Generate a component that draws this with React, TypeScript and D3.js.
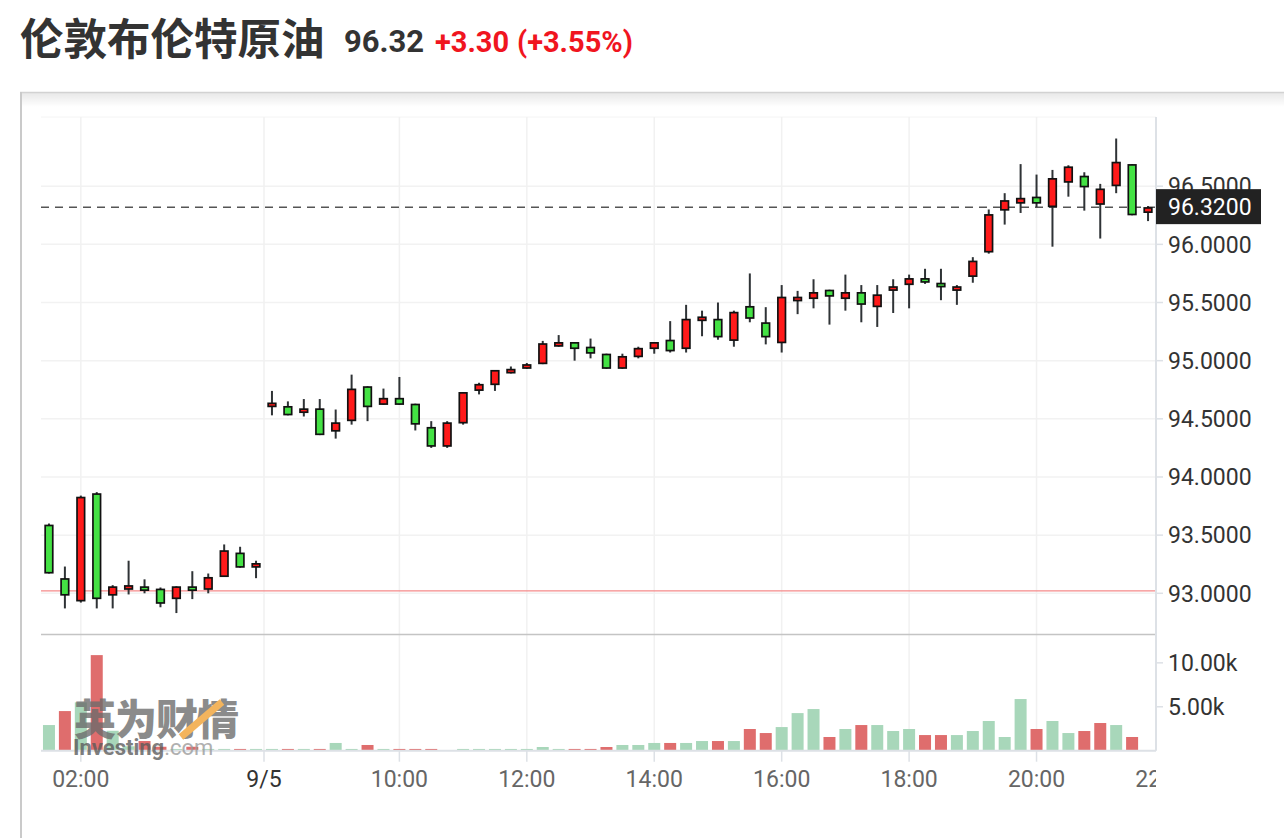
import { useEffect } from 'react';
import * as d3 from 'd3';

// 15-minute candles, index 0 = 01:30
const opens = [
  93.59, 93.13, 92.93, 93.86, 92.98, 93.03, 93.06, 93.04, 92.95, 93.06,
  93.03, 93.14, 93.35, 93.22, 94.60, 94.61, 94.55, 94.59, 94.39, 94.48,
  94.78, 94.62, 94.68, 94.63, 94.43, 94.26, 94.46, 94.74, 94.79, 94.89,
  94.93, 94.97, 95.12, 95.16, 95.12, 95.06, 94.93, 95.03, 95.10, 95.18,
  95.10, 95.34, 95.36, 95.17, 95.47, 95.33, 95.15, 95.51, 95.53, 95.61,
  95.53, 95.59, 95.46, 95.60, 95.65, 95.71, 95.67, 95.60, 95.72, 95.93,
  96.29, 96.35, 96.41, 96.32, 96.53, 96.59, 96.34, 96.50, 96.69, 96.27,
];
const highs = [
  93.60, 93.23, 93.84, 93.87, 93.07, 93.28, 93.12, 93.05, 93.06, 93.19,
  93.17, 93.42, 93.40, 93.28, 94.74, 94.65, 94.67, 94.67, 94.58, 94.88,
  94.78, 94.76, 94.86, 94.63, 94.48, 94.48, 94.73, 94.81, 94.92, 94.95,
  94.98, 95.17, 95.22, 95.16, 95.19, 95.06, 95.06, 95.12, 95.16, 95.34,
  95.48, 95.43, 95.50, 95.43, 95.75, 95.46, 95.65, 95.60, 95.70, 95.61,
  95.74, 95.65, 95.65, 95.70, 95.74, 95.79, 95.79, 95.65, 95.89, 96.30,
  96.44, 96.69, 96.60, 96.64, 96.68, 96.62, 96.52, 96.91, 96.69, 96.33,
];
const lows = [
  93.17, 92.87, 92.92, 92.87, 92.87, 92.99, 93.00, 92.88, 92.83, 92.95,
  93.00, 93.14, 93.22, 93.13, 94.53, 94.53, 94.52, 94.36, 94.33, 94.45,
  94.48, 94.62, 94.62, 94.40, 94.25, 94.25, 94.45, 94.71, 94.74, 94.89,
  94.93, 94.97, 95.12, 95.00, 95.02, 94.93, 94.93, 95.02, 95.06, 95.07,
  95.07, 95.21, 95.18, 95.12, 95.33, 95.14, 95.07, 95.40, 95.45, 95.31,
  95.43, 95.33, 95.29, 95.41, 95.45, 95.66, 95.52, 95.48, 95.67, 95.92,
  96.17, 96.27, 96.32, 95.98, 96.41, 96.29, 96.05, 96.44, 96.25, 96.20,
];
const closes = [
  93.17, 92.98, 93.83, 92.95, 93.06, 93.07, 93.02, 92.91, 93.06, 93.02,
  93.14, 93.37, 93.22, 93.26, 94.64, 94.53, 94.59, 94.36, 94.47, 94.76,
  94.60, 94.68, 94.62, 94.45, 94.26, 94.47, 94.73, 94.80, 94.92, 94.93,
  94.97, 95.15, 95.16, 95.10, 95.06, 94.93, 95.04, 95.11, 95.16, 95.08,
  95.36, 95.38, 95.20, 95.42, 95.36, 95.20, 95.55, 95.55, 95.59, 95.55,
  95.59, 95.48, 95.57, 95.64, 95.71, 95.67, 95.63, 95.64, 95.86, 96.26,
  96.38, 96.40, 96.35, 96.57, 96.67, 96.49, 96.48, 96.71, 96.25, 96.32,
];
// volume, thousands
const volumes = [
  2.92, 4.51, 5.5, 10.88, 2.27, 0.5, 1.1, 0.45, 0.2, 0.45,
  0.2, 0.2, 0.2, 0.2, 0.2, 0.2, 0.2, 0.2, 0.88, 0.2,
  0.65, 0.2, 0.2, 0.2, 0.2, 0.05, 0.2, 0.2, 0.2, 0.2,
  0.2, 0.42, 0.2, 0.2, 0.2, 0.42, 0.65, 0.65, 0.88, 0.88,
  0.88, 1.1, 1.1, 1.1, 2.47, 2.01, 2.69, 4.28, 4.74, 1.56,
  2.47, 2.92, 2.92, 2.24, 2.47, 1.78, 1.78, 1.78, 2.24, 3.38,
  1.56, 5.88, 2.47, 3.38, 2.01, 2.24, 3.15, 2.92, 1.56, 0,
];

const timeTickPos = [2, 13.5, 22, 30, 38, 46, 54, 62, 70];
const timeTickLabels = ['02:00', '9/5', '10:00', '12:00', '14:00', '16:00', '18:00', '20:00', '22:00'];
const priceTicks = [93, 93.5, 94, 94.5, 95, 95.5, 96, 96.5];
const volumeTicks = [5, 10];
const prevClose = 93.02;
const lastPrice = 96.32;

const W = 1284;
const H = 838;
const plotLeft = 41;
const plotRight = 1156;
const priceTop = 117;
const priceBottom = 634;
const volTop = 640;
const volBottom = 750.7;

const RED = '#ff1a1a';
const GREEN = '#44e244';
const VOL_RED = '#df6d6d';
const VOL_GREEN = '#a8d7ba';
const FONT = 'Roboto, "Noto Sans", Arial, sans-serif';

export default function App() {
  useEffect(() => {
    document.body.style.margin = '0';
  }, []);

  const x = d3.scaleLinear().domain([-0.5, 69.5]).range([plotLeft, plotRight]);
  const y = d3.scaleLinear().domain([92.65, 97.095]).range([priceBottom, priceTop]);
  const yv = d3.scaleLinear().domain([0, 12.6]).range([volBottom, volTop]);

  const idx = d3.range(opens.length);
  const bodyW = 7.6;
  const volW = 12;

  return (
    <svg width={W} height={H} style={{ display: 'block', background: '#fff' }}>
      <defs>
        <linearGradient id="shadow" x1="0" x2="0" y1="0" y2="1">
          <stop offset="0" stopColor="#000" stopOpacity="0.09" />
          <stop offset="1" stopColor="#000" stopOpacity="0" />
        </linearGradient>
        <clipPath id="clipAxis">
          <rect x={0} y={0} width={plotRight} height={H} />
        </clipPath>
      </defs>

      {/* header */}
      <text x={20} y={55} fontFamily='"Noto Sans CJK SC", sans-serif' fontWeight={700} fontSize={43.5} fill="#333">
        伦敦布伦特原油
      </text>
      <text x={344} y={52} fontFamily={FONT} fontWeight={700} fontSize={31} fill="#333">96.32</text>
      <text x={435} y={52} fontFamily={FONT} fontWeight={700} fontSize={29} fill="#f0151f">+3.30</text>
      <text x={517} y={52} fontFamily={FONT} fontWeight={700} fontSize={29} fill="#f0151f">(+3.55%)</text>

      {/* card */}
      <rect x={21} y={93} width={W - 21} height={14} fill="url(#shadow)" />
      <line x1={20} x2={W} y1={92.5} y2={92.5} stroke="#d2d2d2" strokeWidth={1.5} />
      <line x1={21} x2={21} y1={92} y2={H} stroke="#cacaca" strokeWidth={2} />

      {/* horizontal grid */}
      {priceTicks.map(t => (
        <line key={`hg${t}`} x1={plotLeft} x2={plotRight} y1={y(t)} y2={y(t)} stroke="#f2f2f2" strokeWidth={1.5} />
      ))}
      <line x1={plotLeft} x2={plotRight} y1={priceTop} y2={priceTop} stroke="#f4f4f4" strokeWidth={1} />

      {/* vertical grid + ticks */}
      {timeTickPos.filter(p => x(p) < plotRight).map(p => (
        <g key={`vg${p}`}>
          <line x1={x(p)} x2={x(p)} y1={priceTop} y2={volBottom} stroke="#f1f1f1" strokeWidth={1.5} />
          <line x1={x(p)} x2={x(p)} y1={volBottom} y2={volBottom + 11} stroke="#dde1e6" strokeWidth={1.5} />
        </g>
      ))}

      {/* previous close + last price lines */}
      <line x1={plotLeft} x2={plotRight} y1={y(prevClose)} y2={y(prevClose)} stroke="#f58a8a" strokeWidth={1.2} />
      <line x1={plotLeft} x2={plotRight} y1={y(lastPrice)} y2={y(lastPrice)} stroke="#555" strokeWidth={1.5} strokeDasharray="8,6" />

      {/* candles */}
      {idx.map(i => {
        const o = opens[i];
        const c = closes[i];
        const up = c >= o;
        const top = y(Math.max(o, c)) + 0.8;
        const bot = y(Math.min(o, c)) - 0.8;
        const cx = x(i);
        return (
          <g key={`c${i}`}>
            <line x1={cx} x2={cx} y1={y(highs[i])} y2={y(lows[i])} stroke="#2f3336" strokeWidth={2} />
            <rect
              x={cx - bodyW / 2}
              y={top}
              width={bodyW}
              height={Math.max(1.5, bot - top)}
              fill={up ? RED : GREEN}
              stroke="#111"
              strokeWidth={1.7}
            />
          </g>
        );
      })}

      {/* separator between panels */}
      <line x1={plotLeft} x2={plotRight} y1={priceBottom + 0.5} y2={priceBottom + 0.5} stroke="#c4c4c4" strokeWidth={1.5} />

      {/* volume bars */}
      {idx.map(i => {
        const up = i === 0 ? true : closes[i] >= closes[i - 1];
        if (volumes[i] <= 0) return null;
        return (
          <rect
            key={`v${i}`}
            x={x(i) - volW / 2}
            y={yv(volumes[i])}
            width={volW}
            height={volBottom - yv(volumes[i])}
            fill={up ? VOL_GREEN : VOL_RED}
          />
        );
      })}
      <line x1={plotLeft} x2={plotRight} y1={volBottom} y2={volBottom} stroke="#dde1e6" strokeWidth={2} />

      {/* watermark */}
      <g opacity={0.78}>
        <text x={74} y={735} fontFamily='"Noto Sans CJK SC", sans-serif' fontWeight={900} fontSize={42} fill="#6b6b6b" letterSpacing={-1}>
          英为财情
        </text>
        <line x1={181} y1={737} x2={222} y2={702} stroke="#f0a030" strokeWidth={7} />
        <text x={73} y={755} fontFamily={FONT} fontWeight={700} fontSize={22} fill="#5a5a5a">
          Investing<tspan fill="#9a9a9a" fontWeight={400}>.com</tspan>
        </text>
      </g>

      {/* right axis */}
      <line x1={plotRight} x2={plotRight} y1={priceTop} y2={volBottom} stroke="#dde1e6" strokeWidth={2} />
      {priceTicks.map(t => (
        <g key={`pt${t}`}>
          <line x1={plotRight} x2={plotRight + 7} y1={y(t)} y2={y(t)} stroke="#dde1e6" strokeWidth={1.5} />
          <text x={plotRight + 12} y={y(t)} dy="0.36em" fontFamily={FONT} fontSize={23} fill="#333">
            {t.toFixed(4)}
          </text>
        </g>
      ))}
      {volumeTicks.map(t => (
        <g key={`vt${t}`}>
          <line x1={plotRight} x2={plotRight + 7} y1={yv(t)} y2={yv(t)} stroke="#dde1e6" strokeWidth={1.5} />
          <text x={plotRight + 12} y={yv(t)} dy="0.36em" fontFamily={FONT} fontSize={23} fill="#333">
            {`${t.toFixed(2)}k`}
          </text>
        </g>
      ))}

      {/* last price label */}
      <rect x={plotRight} y={y(lastPrice) - 18} width={105} height={35} fill="#222" />
      <text x={plotRight + 12} y={y(lastPrice)} dy="0.36em" fontFamily={FONT} fontSize={23} fill="#fff">
        {lastPrice.toFixed(4)}
      </text>

      {/* time axis labels */}
      <g clipPath="url(#clipAxis)">
        {timeTickPos.map((p, k) => (
          <text
            key={`tl${p}`}
            x={x(p)}
            y={787}
            textAnchor="middle"
            fontFamily={FONT}
            fontSize={23}
            fill={timeTickLabels[k].includes('/') ? '#333' : '#666'}
          >
            {timeTickLabels[k]}
          </text>
        ))}
      </g>
    </svg>
  );
}
